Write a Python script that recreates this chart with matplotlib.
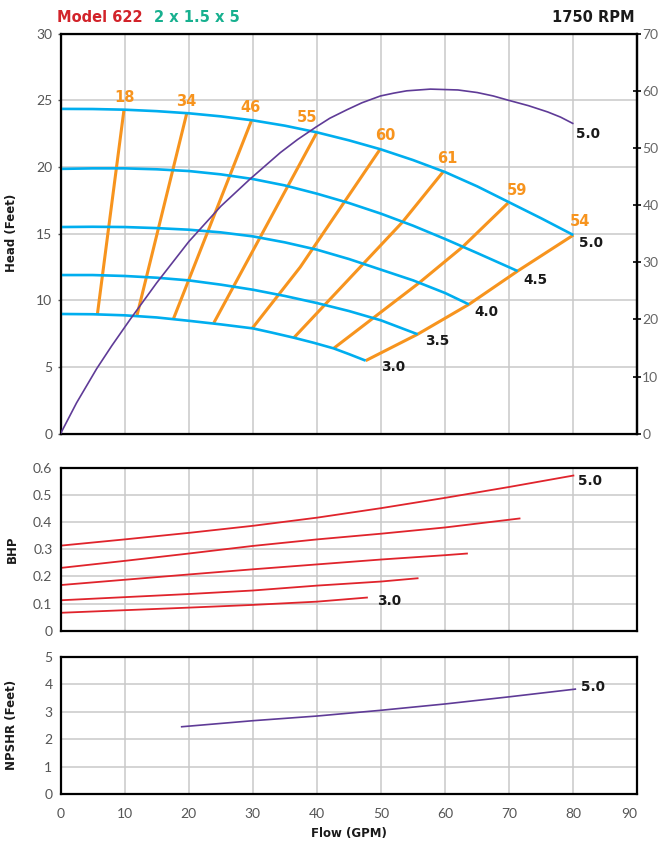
# Model 622 pump curve : head / efficiency, BHP and NPSHR vs flow
import matplotlib
matplotlib.use("Agg")
import matplotlib.pyplot as plt

plt.rcParams["font.family"] = ["Lato", "DejaVu Sans"]

# --- head curves (ft) per impeller diameter ---
flow_50 = [0, 5, 10, 15, 20, 25, 30, 35, 40, 45, 50, 55, 60, 65, 70, 75, 80]
head_50 = [24.36, 24.35, 24.3, 24.19, 24.03, 23.8, 23.5, 23.1, 22.6, 22.0,
           21.32, 20.52, 19.62, 18.55, 17.35, 16.15, 14.9]
flow_45 = [0, 5, 10, 15, 20, 25, 30, 35, 40, 45, 50, 55, 60, 65, 71.3]
head_45 = [19.86, 19.9, 19.9, 19.83, 19.7, 19.45, 19.1, 18.62, 18.0, 17.3,
           16.5, 15.6, 14.6, 13.55, 12.2]
flow_40 = [0, 5, 10, 15, 20, 25, 30, 35, 40, 45, 50, 55, 60, 63.7]
head_40 = [15.5, 15.52, 15.5, 15.42, 15.3, 15.1, 14.8, 14.35, 13.8, 13.1,
           12.3, 11.5, 10.55, 9.7]
flow_35 = [0, 5, 10, 15, 20, 25, 30, 35, 40, 45, 50, 55.7]
head_35 = [11.9, 11.9, 11.83, 11.7, 11.5, 11.18, 10.8, 10.33, 9.8, 9.2, 8.5, 7.46]
flow_30 = [0, 5, 10, 15, 20, 25, 30, 33, 36.4, 39.5, 42.6, 45, 47.6]
head_30 = [8.98, 8.96, 8.88, 8.72, 8.47, 8.2, 7.9, 7.58, 7.2, 6.82, 6.4, 5.97, 5.48]
diam_labels = ["5.0", "4.5", "4.0", "3.5", "3.0"]

# --- iso-efficiency lines (% labels, flow / head points) ---
eff_labels = ["18", "34", "46", "55", "60", "61", "59", "54"]
eff_flows = [
    [9.9, 5.75],
    [19.7, 11.9],
    [29.8, 17.6],
    [40.0, 23.9],
    [49.8, 37.4, 29.9],
    [59.7, 53.3, 36.4],
    [69.8, 62.7, 55.9, 42.6],
    [80, 71.3, 63.7, 55.7, 47.6],
]
eff_heads = [
    [24.3, 8.95],
    [24.05, 8.82],
    [23.5, 8.6],
    [22.6, 8.3],
    [21.3, 12.5, 7.9],
    [19.65, 15.85, 7.2],
    [17.3, 14.0, 11.3, 6.4],
    [14.9, 12.2, 9.7, 7.46, 5.48],
]

# --- efficiency curve 5.0 (right axis, %) ---
eff_curve_flow = [0, 2.5, 5.65, 8, 10.86, 15, 20, 25, 29.6, 34.3, 37, 39.9, 42,
                  44.7, 47, 49.9, 52, 54, 57.7, 62, 65, 67.5, 69.7, 73, 76, 78, 79.9]
eff_curve_val = [0, 5.4, 11.4, 15.4, 20.0, 26.4, 33.6, 39.8, 44.6, 49.2, 51.5,
                 53.7, 55.2, 56.7, 57.9, 59.1, 59.6, 60.0, 60.3, 60.15, 59.7,
                 59.1, 58.4, 57.4, 56.3, 55.4, 54.3]

# --- BHP ---
bhp_flows = [
    [0, 10, 20, 30, 40, 50, 60, 70, 80],
    [0, 10, 20, 30, 40, 50, 60, 71.6],
    [0, 20, 30, 40, 50, 60, 63.4],
    [0, 20, 30, 40, 50, 55.7],
    [0, 20, 30, 40, 47.8],
]
bhp_vals = [
    [0.313, 0.336, 0.36, 0.386, 0.416, 0.451, 0.489, 0.529, 0.571],
    [0.231, 0.257, 0.284, 0.312, 0.336, 0.357, 0.380, 0.413],
    [0.168, 0.207, 0.226, 0.244, 0.262, 0.278, 0.284],
    [0.112, 0.135, 0.148, 0.166, 0.181, 0.193],
    [0.066, 0.085, 0.095, 0.107, 0.122],
]

# --- NPSHR 5.0 ---
npsh_flow = [18.9, 30, 40, 50, 60, 70, 80.3]
npsh_val = [2.45, 2.67, 2.84, 3.05, 3.28, 3.54, 3.82]

BLUE = "#00AEEF"
ORANGE = "#F7941E"
PURPLE = "#5F3B97"
RED = "#E0242C"
GRID = "#C9C9C9"
TICK = "#555555"
BOLD = ["DejaVu Sans"]


def px(v):
    # pixel -> points (dpi 100)
    return v * 0.72


def base_axes(ax, ymax, ystep):
    ax.set_xlim(0, 90)
    ax.set_ylim(0, ymax)
    ax.set_xticks(range(0, 91, 10))
    n = int(round(ymax / ystep))
    ax.set_yticks([i * ystep for i in range(n + 1)])
    ax.grid(True, color=GRID, lw=1.1)
    ax.set_axisbelow(True)
    for s in ax.spines.values():
        s.set_linewidth(1.6)
        s.set_color("black")


def label(ax, text, x, y, dx, dy, color="#1a1a1a", ha="left", size=9.8):
    ax.annotate(text, (x, y), xytext=(px(dx), px(dy)), textcoords="offset points",
                ha=ha, va="center", fontsize=size, fontweight="bold", color=color,
                family=BOLD)


fig = plt.figure(figsize=(6.6, 8.44), dpi=100)
ax_h = fig.add_axes([0.0917, 0.4861, 0.8742, 0.474])
ax_b = fig.add_axes([0.0917, 0.2527, 0.8742, 0.1932])
ax_n = fig.add_axes([0.0917, 0.0592, 0.8742, 0.1627])

# ---- head chart ----
base_axes(ax_h, 30, 5)
ax_h.tick_params(axis="x", length=0, labelbottom=False)
ax_h.tick_params(axis="y", length=2.5, width=1, color=TICK, labelsize=10,
                 labelcolor=TICK, pad=3.5)

curves = [(flow_50, head_50), (flow_45, head_45), (flow_40, head_40),
          (flow_35, head_35), (flow_30, head_30)]
for fl, hd in curves:
    ax_h.plot(fl, hd, color=BLUE, lw=1.9, solid_capstyle="butt", zorder=3)

for fl, hd in zip(eff_flows, eff_heads):
    ax_h.plot(fl, hd, color=ORANGE, lw=2.2, solid_capstyle="butt", zorder=2)

# labels at curve ends
end_offsets = [(6, -8), (6, -9), (5, -8), (7, -7), (15, -6)]
for (fl, hd), txt, (dx, dy) in zip(curves, diam_labels, end_offsets):
    label(ax_h, txt, fl[-1], hd[-1], dx, dy)

eff_offsets = [(1, 12), (-1, 12), (-1, 13), (-10, 15), (6, 14), (4, 13), (9, 13), (7, 14)]
for txt, fl, hd, (dx, dy) in zip(eff_labels, eff_flows, eff_heads, eff_offsets):
    label(ax_h, txt, fl[0], hd[0], dx, dy, color=ORANGE, ha="center", size=10.5)

ax_e = ax_h.twinx()
ax_e.set_ylim(0, 70)
ax_e.set_yticks(range(0, 71, 10))
ax_e.spines["right"].set_linewidth(1.6)
ax_e.spines["right"].set_color("black")
ax_e.tick_params(axis="y", direction="inout", length=6, width=1.2, color="black",
                 labelsize=10, labelcolor="#666666", pad=0.5)
ax_e.plot(eff_curve_flow, eff_curve_val, color=PURPLE, lw=1.2, zorder=4)
label(ax_e, "5.0", eff_curve_flow[-1], eff_curve_val[-1], 3, -11)

# ---- BHP chart ----
base_axes(ax_b, 0.6, 0.1)
ax_b.set_yticklabels(["0", "0.1", "0.2", "0.3", "0.4", "0.5", "0.6"])
ax_b.tick_params(axis="x", length=0, labelbottom=False)
ax_b.tick_params(axis="y", length=0, labelsize=10, labelcolor=TICK, pad=5.8)
for fl, v in zip(bhp_flows, bhp_vals):
    ax_b.plot(fl, v, color=RED, lw=1.3)
label(ax_b, "5.0", bhp_flows[0][-1], bhp_vals[0][-1], 5, -5)
label(ax_b, "3.0", bhp_flows[4][-1], bhp_vals[4][-1], 10, -3)

# ---- NPSHR chart ----
base_axes(ax_n, 5, 1)
ax_n.tick_params(axis="x", length=0, labelsize=10, labelcolor=TICK, pad=10)
ax_n.tick_params(axis="y", length=0, labelsize=10, labelcolor=TICK, pad=5.8)
ax_n.get_xticklabels()[-1].set_ha("right")
ax_n.plot(npsh_flow, npsh_val, color=PURPLE, lw=1.2)
label(ax_n, "5.0", npsh_flow[-1], npsh_val[-1], 6, 2.5)

# ---- texts ----
W, H = 660.0, 844.0
fig.text(57 / W, 1 - 17 / H, "Model 622", color="#D2232A", fontsize=10.5,
         fontweight="bold", va="center", ha="left", family=BOLD)
fig.text(154 / W, 1 - 17 / H, "2 x 1.5 x 5", color="#17B08F", fontsize=10.5,
         fontweight="bold", va="center", ha="left", family=BOLD)
fig.text(635 / W, 1 - 17 / H, "1750 RPM", color="#1a1a1a", fontsize=10.5,
         fontweight="bold", va="center", ha="right", family=BOLD)

for txt, y in [("Head (Feet)", 233), ("BHP", 549), ("NPSHR (Feet)", 725)]:
    fig.text(12 / W, 1 - y / H, txt, rotation=90, fontsize=8.5, family=BOLD,
             fontweight="bold", va="center", ha="center", color="#1a1a1a")
fig.text(349 / W, 1 - 834 / H, "Flow (GPM)", fontsize=8.5, family=BOLD,
         fontweight="bold", va="center", ha="center", color="#1a1a1a")

fig.savefig("out.png", dpi=100)
